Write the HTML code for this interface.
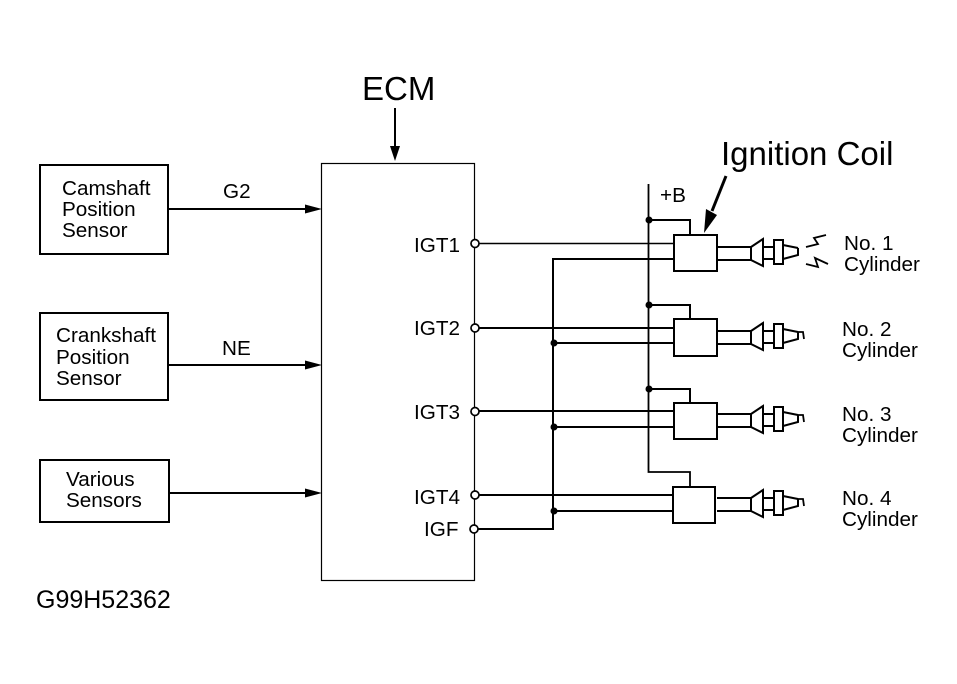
<!DOCTYPE html>
<html>
<head>
<meta charset="utf-8">
<style>
html,body{margin:0;padding:0;background:#fff;width:957px;height:684px;overflow:hidden}
svg{display:block}
text{font-family:"Liberation Sans",sans-serif;fill:#000;font-size:20.700px}
.k{fill:none;stroke:#000;stroke-width:2}
.t{fill:none;stroke:#000;stroke-width:1.500}
.m{fill:none;stroke:#000;stroke-width:1.800}
</style>
</head>
<body>
<svg width="957" height="684" viewBox="0 0 957 684" xmlns="http://www.w3.org/2000/svg">
<defs>
<g id="plug">
  <path class="k" d="M717 13H751M717 26H751"/>
  <path class="k" d="M751 13V26L763 32V5L751 13"/>
  <path class="k" d="M763 13H774M763 25H774"/>
  <rect class="k" x="774" y="6" width="9" height="24"/>
  <path class="k" d="M783 11L798 14M783 25L798 21V14"/>
</g>
<g id="hook"><path class="m" d="M798 14H803L804 21"/></g>
</defs>

<!-- sensor boxes -->
<rect class="k" x="40" y="165" width="128" height="89"/>
<rect class="k" x="40" y="313" width="128" height="87"/>
<rect class="k" x="40" y="460" width="129" height="62"/>
<text x="62" y="195">Camshaft</text>
<text x="62" y="216">Position</text>
<text x="62" y="237">Sensor</text>
<text x="56" y="342">Crankshaft</text>
<text x="56" y="364">Position</text>
<text x="56" y="385">Sensor</text>
<text x="66" y="486">Various</text>
<text x="66" y="507">Sensors</text>
<text x="223" y="198">G2</text>
<text x="222" y="355">NE</text>

<!-- sensor arrows -->
<path class="k" d="M168 209H308M168 365H308M169 493H308"/>
<path d="M305 204.500L322 209L305 213.500ZM305 360.500L322 365L305 369.500ZM305 488.500L322 493L305 497.500Z" fill="#000"/>

<!-- ECM -->
<rect x="321.500" y="163.500" width="153" height="417" fill="none" stroke="#000" stroke-width="1.200"/>
<text x="362" y="100" style="font-size:33px">ECM</text>
<path class="k" d="M395 108V150"/>
<path d="M390 146H400L395 161Z" fill="#000"/>
<text x="414" y="252">IGT1</text>
<text x="414" y="335">IGT2</text>
<text x="414" y="419">IGT3</text>
<text x="414" y="504">IGT4</text>
<text x="424" y="536">IGF</text>

<!-- signal lines -->
<path class="t" d="M479 243.500H673"/>
<path class="k" d="M479 328H673M479 411H673M479 495H673M478 529H553V259H673"/>
<path class="k" d="M553 343H673M553 427H673M553 511H673"/>
<circle cx="475" cy="243.500" r="4" fill="#fff" stroke="#000" stroke-width="1.700"/>
<circle cx="475" cy="328" r="4" fill="#fff" stroke="#000" stroke-width="1.700"/>
<circle cx="475" cy="411.500" r="4" fill="#fff" stroke="#000" stroke-width="1.700"/>
<circle cx="475" cy="495" r="4" fill="#fff" stroke="#000" stroke-width="1.700"/>
<circle cx="474" cy="529" r="4" fill="#fff" stroke="#000" stroke-width="1.700"/>
<circle cx="554" cy="343" r="3.500" fill="#000"/>
<circle cx="554" cy="427" r="3.500" fill="#000"/>
<circle cx="554" cy="511" r="3.500" fill="#000"/>

<!-- +B rail -->
<text x="660" y="202">+B</text>
<path class="m" d="M648.500 184V472H690V487"/>
<path class="k" d="M649 220H690V234M649 305H690V319M649 389H690V403"/>
<circle cx="649" cy="220" r="3.500" fill="#000"/>
<circle cx="649" cy="305" r="3.500" fill="#000"/>
<circle cx="649" cy="389" r="3.500" fill="#000"/>

<!-- coils -->
<rect class="k" x="674" y="235" width="43" height="36"/>
<rect class="k" x="674" y="319" width="43" height="37"/>
<rect class="k" x="674" y="403" width="43" height="36"/>
<rect class="k" x="673" y="487" width="42" height="36"/>
<use href="#plug" y="234"/>
<use href="#plug" y="318"/>
<use href="#plug" y="401"/>
<use href="#plug" y="485"/>
<use href="#hook" y="318"/>
<use href="#hook" y="401"/>
<use href="#hook" y="485"/>

<!-- sparks -->
<path class="m" d="M806 247L818 244L814 238L826 235"/>
<path class="m" d="M806 264L818 267L815 258L828 264"/>

<!-- ignition coil label -->
<text x="721" y="165" style="font-size:33px">Ignition Coil</text>
<path d="M726 176L712 211" fill="none" stroke="#000" stroke-width="3"/>
<path d="M704 233L706 209L717 215Z" fill="#000"/>

<!-- cylinders -->
<text x="844" y="250">No. 1</text>
<text x="844" y="271">Cylinder</text>
<text x="842" y="336">No. 2</text>
<text x="842" y="357">Cylinder</text>
<text x="842" y="421">No. 3</text>
<text x="842" y="442">Cylinder</text>
<text x="842" y="505">No. 4</text>
<text x="842" y="526">Cylinder</text>

<text x="36" y="608" style="font-size:25px">G99H52362</text>
</svg>
</body>
</html>
